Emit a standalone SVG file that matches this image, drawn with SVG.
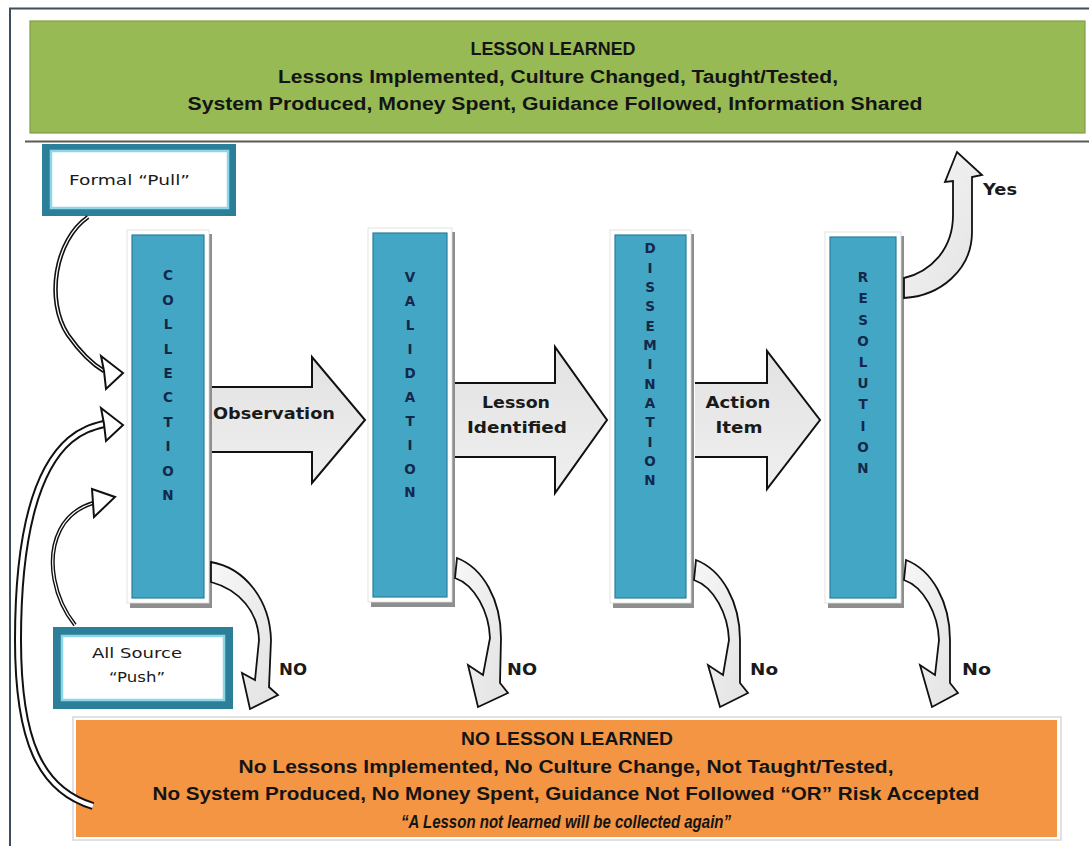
<svg xmlns="http://www.w3.org/2000/svg" width="1089" height="846" viewBox="0 0 1089 846">
  <style>
    .band-text { font-family: "Liberation Sans", Arial, sans-serif; font-weight: bold; font-size: 17.5px; fill: #141414; text-anchor: middle; }
    .bar { fill: #44a6c5; stroke: #2a7f9a; stroke-width: 1.2; }
    .bar-halo { fill: #ffffff; stroke: #dcdcdc; stroke-width: 0.8; }
    .bar-shadow { fill: #8e8e8e; }
    .vert { font-family: "DejaVu Sans", Verdana, sans-serif; font-weight: bold; font-size: 13.5px; fill: #13284a; text-anchor: middle; }
    .label { font-family: "DejaVu Sans", Verdana, sans-serif; font-weight: bold; font-size: 15px; fill: #1a1a1a; }
    .small { font-family: "DejaVu Sans", Verdana, sans-serif; font-size: 13.5px; fill: #1a1a1a; }
    .block { fill: url(#blockFill); }
    .block-edge { fill: none; stroke: #111; stroke-width: 2; stroke-linejoin: miter; }
    .bend { fill: url(#bendFill); stroke: #111; stroke-width: 1.8; stroke-linejoin: miter; }
    .feed-outer { fill: none; stroke: #111; stroke-linecap: butt; }
    .feed-inner { fill: none; stroke: #ffffff; stroke-linecap: butt; }
    .head { fill: #ffffff; stroke: #111; stroke-width: 2; stroke-linejoin: miter; }
    .src-outer { fill: #2c7f98; }
    .src-inner { fill: #ffffff; stroke: #8fd6e8; stroke-width: 2.5; }
  </style>
  <defs>
    <linearGradient id="blockFill" x1="0" y1="0" x2="0" y2="1">
      <stop offset="0" stop-color="#e2e2e2"/>
      <stop offset="1" stop-color="#efefef"/>
    </linearGradient>
    <linearGradient id="bendFill" x1="0" y1="0" x2="1" y2="1">
      <stop offset="0" stop-color="#f7f7f7"/>
      <stop offset="1" stop-color="#e2e2e2"/>
    </linearGradient>
  </defs>

  <rect width="1089" height="846" fill="#ffffff"/>

  <!-- outer frame (top and left edges visible) -->
  <path d="M10,846 L10,8.5 L1089,8.5" fill="none" stroke="#3f4d5e" stroke-width="2"/>

  <!-- outcome band: success -->
  <g id="lesson-learned">
    <rect x="30" y="21" width="1055" height="112" fill="#97ba55" stroke="#7f9f45" stroke-width="1.2"/>
    <text class="band-text" x="553" y="55" textLength="165" lengthAdjust="spacingAndGlyphs">LESSON LEARNED</text>
    <text class="band-text" x="558" y="83" textLength="560" lengthAdjust="spacingAndGlyphs">Lessons Implemented, Culture Changed, Taught/Tested,</text>
    <text class="band-text" x="555" y="110" textLength="735" lengthAdjust="spacingAndGlyphs">System Produced, Money Spent, Guidance Followed, Information Shared</text>
  </g>
  <line x1="25" y1="141.5" x2="1089" y2="141.5" stroke="#5a5a5a" stroke-width="2.2"/>

  <!-- outcome band: failure -->
  <g id="no-lesson-learned">
    <rect x="73" y="717" width="988" height="123" fill="none" stroke="#d8d8d8" stroke-width="1.5"/>
    <rect x="76" y="720" width="981" height="117" fill="#f49543"/>
    <text class="band-text" x="567" y="745" textLength="212" lengthAdjust="spacingAndGlyphs">NO LESSON LEARNED</text>
    <text class="band-text" x="566" y="773" textLength="655" lengthAdjust="spacingAndGlyphs">No Lessons Implemented, No Culture Change, Not Taught/Tested,</text>
    <text class="band-text" x="566" y="800" textLength="827" lengthAdjust="spacingAndGlyphs">No System Produced, No Money Spent, Guidance Not Followed “OR” Risk Accepted</text>
    <text class="band-text" x="566" y="828" font-style="italic" textLength="330" lengthAdjust="spacingAndGlyphs">“A Lesson not learned will be collected again”</text>
  </g>

  <!-- input sources -->
  <g id="formal-pull">
    <rect class="src-outer" x="42" y="144" width="194" height="72"/>
    <rect class="src-inner" x="51" y="151" width="177" height="57"/>
    <text class="small" x="69" y="185" textLength="121" lengthAdjust="spacingAndGlyphs">Formal “Pull”</text>
  </g>
  <g id="all-source-push">
    <rect class="src-outer" x="53" y="627" width="180" height="82"/>
    <rect class="src-inner" x="62" y="636" width="162" height="64"/>
    <text class="small" x="137" y="658" text-anchor="middle" textLength="90" lengthAdjust="spacingAndGlyphs">All Source</text>
    <text class="small" x="137" y="682" text-anchor="middle" textLength="56" lengthAdjust="spacingAndGlyphs">“Push”</text>
  </g>

  <!-- process stages -->
  <g id="collection">
    <rect class="bar-shadow" x="130" y="234" width="82" height="374"/>
    <rect class="bar-halo" x="127" y="230" width="82" height="373"/>
    <rect class="bar" x="132" y="235" width="72" height="363"/>
    <text class="vert">
      <tspan x="168" y="280">C</tspan><tspan x="168" y="304.5">O</tspan><tspan x="168" y="328.5">L</tspan><tspan x="168" y="353.5">L</tspan><tspan x="168" y="377.5">E</tspan><tspan x="168" y="402">C</tspan><tspan x="168" y="426.5">T</tspan><tspan x="168" y="450.5">I</tspan><tspan x="168" y="475.5">O</tspan><tspan x="168" y="499.5">N</tspan>
    </text>
  </g>
  <g id="validation">
    <rect class="bar-shadow" x="371" y="232" width="84" height="375"/>
    <rect class="bar-halo" x="368" y="228" width="84" height="374"/>
    <rect class="bar" x="373" y="233" width="74" height="364"/>
    <text class="vert">
      <tspan x="410" y="282">V</tspan><tspan x="410" y="306">A</tspan><tspan x="410" y="329.5">L</tspan><tspan x="410" y="353.5">I</tspan><tspan x="410" y="377.5">D</tspan><tspan x="410" y="401.5">A</tspan><tspan x="410" y="425.5">T</tspan><tspan x="410" y="449.5">I</tspan><tspan x="410" y="473.5">O</tspan><tspan x="410" y="497">N</tspan>
    </text>
  </g>
  <g id="dissemination">
    <rect class="bar-shadow" x="613" y="234" width="81" height="374"/>
    <rect class="bar-halo" x="610" y="230" width="81" height="373"/>
    <rect class="bar" x="615" y="235" width="71" height="363"/>
    <text class="vert">
      <tspan x="650" y="253">D</tspan><tspan x="650" y="272.5">I</tspan><tspan x="650" y="291.5">S</tspan><tspan x="650" y="311">S</tspan><tspan x="650" y="330.5">E</tspan><tspan x="650" y="349.5">M</tspan><tspan x="650" y="369">I</tspan><tspan x="650" y="388.5">N</tspan><tspan x="650" y="407.5">A</tspan><tspan x="650" y="427">T</tspan><tspan x="650" y="446.5">I</tspan><tspan x="650" y="465.5">O</tspan><tspan x="650" y="485">N</tspan>
    </text>
  </g>
  <g id="resolution">
    <rect class="bar-shadow" x="828" y="236" width="76" height="372"/>
    <rect class="bar-halo" x="825" y="232" width="76" height="371"/>
    <rect class="bar" x="830" y="237" width="66" height="361"/>
    <text class="vert">
      <tspan x="863" y="282">R</tspan><tspan x="863" y="303">E</tspan><tspan x="863" y="324.5">S</tspan><tspan x="863" y="345.5">O</tspan><tspan x="863" y="366.5">L</tspan><tspan x="863" y="388">U</tspan><tspan x="863" y="409">T</tspan><tspan x="863" y="430.5">I</tspan><tspan x="863" y="451.5">O</tspan><tspan x="863" y="472.5">N</tspan>
    </text>
  </g>

  <!-- connectors -->
  <g id="connectors">
    <!-- stage-to-stage block arrows -->
    <path class="block" d="M212,387 L312,387 L312,357 L365,420 L312,483 L312,452 L212,452 Z"/>
    <path class="block-edge" d="M212,387 L312,387 L312,357 L365,420 L312,483 L312,452 L212,452"/>
    <text class="label" x="213" y="419" textLength="122" lengthAdjust="spacingAndGlyphs">Observation</text>

    <path class="block" d="M455,383 L555,383 L555,347 L607,420 L555,493 L555,457 L455,457 Z"/>
    <path class="block-edge" d="M455,383 L555,383 L555,347 L607,420 L555,493 L555,457 L455,457"/>
    <text class="label" x="516" y="408" text-anchor="middle" textLength="68" lengthAdjust="spacingAndGlyphs">Lesson</text>
    <text class="label" x="517" y="433" text-anchor="middle" textLength="100" lengthAdjust="spacingAndGlyphs">Identified</text>

    <path class="block" d="M695,383 L767,383 L767,351 L820,420 L767,489 L767,457 L695,457 Z"/>
    <path class="block-edge" d="M695,383 L767,383 L767,351 L820,420 L767,489 L767,457 L695,457"/>
    <text class="label" x="738" y="408" text-anchor="middle" textLength="65" lengthAdjust="spacingAndGlyphs">Action</text>
    <text class="label" x="739" y="433" text-anchor="middle" textLength="47" lengthAdjust="spacingAndGlyphs">Item</text>

    <!-- "No" exits -->
    <path class="bend" d="M211,562 C245,568 270,600 271,640 L269,687 L278,695 L250,709 L242,673 L255,680 L259,640 C258,612 240,590 211,582 Z"/>
    <text class="label" x="279" y="675" font-size="13" textLength="28" lengthAdjust="spacingAndGlyphs">NO</text>

    <path class="bend" d="M457,558 C483,568 501,600 501,638 L500,683 L508,693 L478,707 L468,665 L483,675 L490,638 C489,612 475,585 455,578 Z"/>
    <text class="label" x="507" y="675" font-size="13" textLength="30" lengthAdjust="spacingAndGlyphs">NO</text>

    <path class="bend" d="M696,560 C722,570 740,602 740,640 L740,683 L748,693 L720,707 L708,665 L723,675 L729,640 C728,614 714,587 694,580 Z"/>
    <text class="label" x="750" y="675" font-size="13" textLength="28" lengthAdjust="spacingAndGlyphs">No</text>

    <path class="bend" d="M906,560 C932,570 950,602 950,640 L950,683 L958,693 L932,707 L920,665 L935,675 L939,640 C938,614 924,587 904,580 Z"/>
    <text class="label" x="962" y="675" font-size="13" textLength="29" lengthAdjust="spacingAndGlyphs">No</text>

    <!-- "Yes" exit -->
    <path class="bend" d="M904,278 C930,272 953,250 953,215 L953,181 L945,182 L957,152 L982,175 L972,177 L972,232 C972,270 940,296 904,298 Z"/>
    <text class="label" x="983" y="195" font-size="14" textLength="34" lengthAdjust="spacingAndGlyphs">Yes</text>

    <!-- sources into collection -->
    <path class="feed-outer" stroke-width="4.5" d="M88,217 C55,240 45,300 68,335 C80,352 92,364 104,371"/>
    <path class="feed-inner" stroke-width="1.3" d="M88,217 C55,240 45,300 68,335 C80,352 92,364 104,371"/>
    <polygon class="head" points="101,356 123,373 106,389 104,371"/>

    <path class="feed-outer" stroke-width="4" d="M75,625 C55,600 45,560 60,530 C67,516 77,508 93,503"/>
    <path class="feed-inner" stroke-width="1.2" d="M75,625 C55,600 45,560 60,530 C67,516 77,508 93,503"/>
    <polygon class="head" points="92,489 115,497 94,517 93,503"/>

    <!-- unlearned lessons loop back to collection -->
    <path class="feed-outer" stroke-width="8" d="M93,806 C40,790 18,740 18,640 C18,540 35,470 70,440 C82,430 92,427 104,424"/>
    <path class="feed-inner" stroke-width="4" d="M93,806 C40,790 18,740 18,640 C18,540 35,470 70,440 C82,430 92,427 104,424"/>
    <polygon class="head" points="101,408 123,425 106,441 104,424"/>
  </g>
</svg>
